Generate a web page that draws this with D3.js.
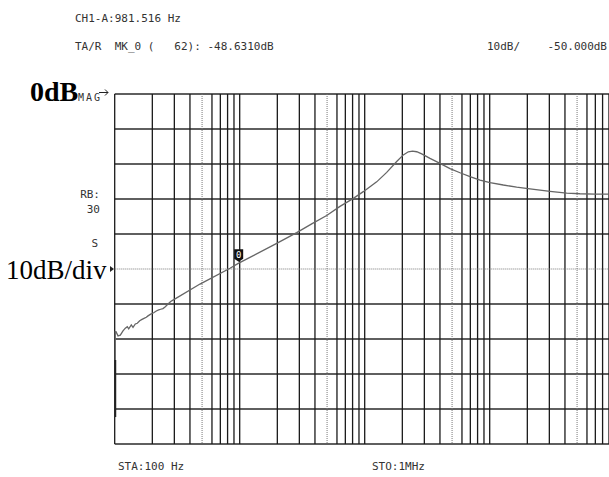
<!DOCTYPE html>
<html><head><meta charset="utf-8">
<script src="https://cdn.jsdelivr.net/npm/d3@7"></script>
<style>html,body{margin:0;padding:0;background:#fff;overflow:hidden} text{white-space:pre}</style>
</head><body>
<svg id="c" width="609" height="477"></svg>
<script>
// Data (frequency in Hz, magnitude in dB)
const freqs = [101, 101, 102.4, 106.3, 110.9, 116.5, 121.6, 126.1, 129.4, 135.8, 140.1, 146.2, 151.6, 158.5, 165.4, 171.6, 179.0, 184.7, 194.1, 205.1, 215.2, 224.9, 233.3, 243.4, 254.0, 267.0, 280.5, 292.6, 481.2, 836.5, 974.5, 1977, 2858, 3767, 4966, 6343, 8060, 9745, 12470, 15000, 18030, 20370, 22330, 24130, 26060, 28580, 33300, 40030, 48130, 57870, 69580, 83650, 100550, 128500, 164400, 210100, 303700, 413000, 527700, 695800, 1000000];
const magDb = [-92.3, -67.9, -67.9, -69.1, -68.9, -67.7, -66.9, -66.5, -67.1, -66.0, -66.7, -65.7, -65.5, -64.8, -64.4, -64.1, -63.8, -63.4, -62.9, -62.5, -62.0, -61.7, -61.5, -61.3, -60.8, -60.0, -59.3, -58.9, -54.3, -49.8, -48.4, -42.7, -39.6, -37.1, -34.7, -32.1, -29.9, -27.9, -25.1, -22.4, -19.3, -17.4, -16.5, -16.3, -16.5, -17.1, -18.4, -19.8, -21.3, -22.5, -23.6, -24.6, -25.3, -26.0, -26.6, -27.1, -27.8, -28.3, -28.5, -28.6, -28.6];
const markerFreq = 981.516, markerDb = -48.631;
const dbTicks = [0, -10, -20, -30, -40, -50, -60, -70, -80, -90, -100];
const refDb = -50;
const headerLines = ["CH1-A:981.516 Hz", "TA/R  MK_0 (   62): -48.6310dB"];
const scaleText = "10dB/", refText = "-50.000dB";
const startText = "STA:100 Hz", stopText = "STO:1MHz";
const sideLabels = ["RB:", "30", "S"];

const svg = d3.select("#c");
const x = d3.scaleLog().domain([100, 1e6]).range([114.7, 614.7]);
const y = d3.scaleLinear().domain([0, -100]).range([94, 444]);

const mono = "'DejaVu Sans Mono', monospace";
const g = svg.append("g");
const mant = d => Math.round(d / Math.pow(10, Math.floor(Math.log10(d) + 1e-9)));

// horizontal grid
g.selectAll("line.h").data(dbTicks.filter(d => d !== refDb)).join("line")
  .attr("x1", x(100)).attr("x2", x(1e6)).attr("y1", d => y(d)).attr("y2", d => y(d))
  .attr("stroke", "#2a2a2a").attr("stroke-width", 1.4);
// vertical grid
const vt = x.ticks();
g.selectAll("line.v").data(vt).join("line")
  .attr("x1", d => x(d)).attr("x2", d => x(d)).attr("y1", y(0)).attr("y2", y(-100))
  .attr("stroke", d => mant(d) === 5 ? "#777" : "#1a1a1a")
  .attr("stroke-width", d => mant(d) === 5 ? 1 : 1.3)
  .attr("stroke-dasharray", d => mant(d) === 5 ? "1,1" : null);
// reference dotted line
g.append("line").attr("x1", x(100)).attr("x2", x(1e6)).attr("y1", y(refDb)).attr("y2", y(refDb))
  .attr("stroke", "#777").attr("stroke-width", 1).attr("stroke-dasharray", "1,1");

// trace
const pts = freqs.map((f, i) => [f, magDb[i]]);
g.append("path").datum(pts)
  .attr("d", d3.line().x(d => x(d[0])).y(d => y(d[1])))
  .attr("fill", "none").attr("stroke", "#666").attr("stroke-width", 1.3);
// bold start of trace
g.append("path").datum(pts.slice(0, 2))
  .attr("d", d3.line().x(d => x(d[0])).y(d => y(d[1] < -75 ? d[1] : -76)))
  .attr("fill", "none").attr("stroke", "#222").attr("stroke-width", 2);

// marker
const mx = x(markerFreq), my = y(markerDb);
g.append("path")
  .attr("d", `M${mx - 4.5},${my - 15} L${mx + 4.5},${my - 15} L${mx + 4.5},${my - 5.5} L${mx},${my - 2.5} L${mx - 4.5},${my - 5.5} Z`)
  .attr("fill", "#111");
g.append("text").attr("x", mx).attr("y", my - 6.5).attr("text-anchor", "middle")
  .attr("font-family", mono).attr("font-size", 9).attr("fill", "#fff").text("0");

// header text
svg.selectAll("text.hdr").data(headerLines).join("text")
  .attr("x", 75).attr("y", (d, i) => 22 + i * 28)
  .attr("font-family", mono).attr("font-size", 11).attr("fill", "#333").text(d => d);
svg.append("text").attr("x", 487).attr("y", 50).attr("font-family", mono).attr("font-size", 11).attr("fill", "#333").text(scaleText);
svg.append("text").attr("x", 607).attr("y", 50).attr("text-anchor", "end").attr("font-family", mono).attr("font-size", 11).attr("fill", "#333").text(refText);

// footer
svg.append("text").attr("x", 118).attr("y", 470).attr("font-family", mono).attr("font-size", 11).attr("fill", "#333").text(startText);
svg.append("text").attr("x", 372).attr("y", 470).attr("font-family", mono).attr("font-size", 11).attr("fill", "#333").text(stopText);

// side labels
svg.append("text").attr("x", 100).attr("y", 198).attr("text-anchor", "end").attr("font-family", mono).attr("font-size", 11).attr("fill", "#333").text(sideLabels[0]);
svg.append("text").attr("x", 100).attr("y", 213).attr("text-anchor", "end").attr("font-family", mono).attr("font-size", 11).attr("fill", "#333").text(sideLabels[1]);
svg.append("text").attr("x", 98).attr("y", 247).attr("text-anchor", "end").attr("font-family", mono).attr("font-size", 11).attr("fill", "#333").text(sideLabels[2]);

// MAG + arrow
svg.append("text").attr("x", 78).attr("y", 101).attr("font-family", mono).attr("font-size", 10).attr("fill", "#333")
  .attr("textLength", 22).text("MAG");
svg.append("path").attr("d", "M99,92.5 L108,92.5 M105,89.5 L108,92.5 L105,95.5").attr("stroke", "#222").attr("stroke-width", 1).attr("fill", "none");
svg.append("text").attr("x", 30).attr("y", 101).attr("font-family", "'Liberation Serif', 'Times New Roman', serif")
  .attr("font-weight", "bold").attr("font-size", 28).attr("fill", "#000").text("0dB");

// 10dB/div
svg.append("text").attr("x", 6).attr("y", 279).attr("font-family", "'Liberation Serif', 'Times New Roman', serif")
  .attr("font-size", 27).attr("fill", "#000").text("10dB/div");
svg.append("path").attr("d", `M110,${y(refDb) - 3} L114,${y(refDb)} L110,${y(refDb) + 3} Z`).attr("fill", "#222");
</script>
</body></html>
